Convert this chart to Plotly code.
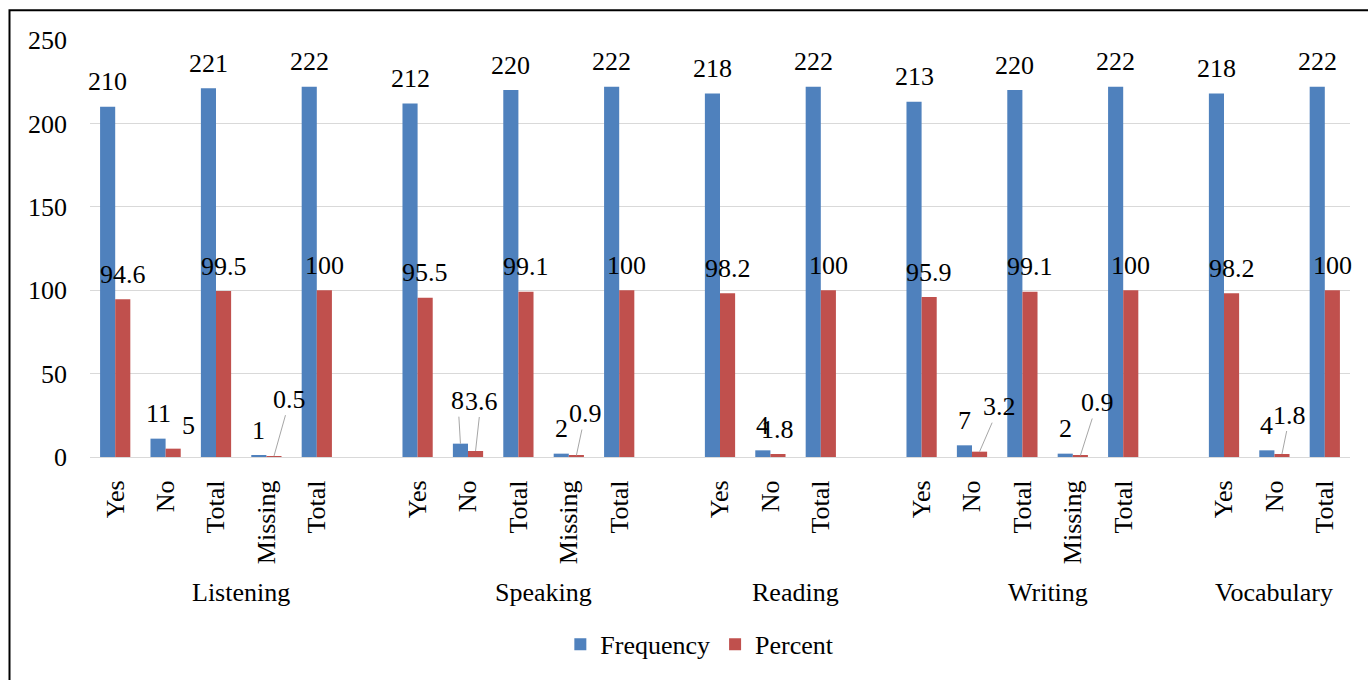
import plotly.graph_objects as go

# ---- data ----
sub_labels = ["Yes", "No", "Total", "Missing", "Total", "",
              "Yes", "No", "Total", "Missing", "Total", "",
              "Yes", "No", "Total", "",
              "Yes", "No", "Total", "Missing", "Total", "",
              "Yes", "No", "Total"]
groups = ["Listening", "Speaking", "Reading", "Writing", "Vocabulary"]
group_spans = [(0, 5), (6, 11), (12, 15), (16, 21), (22, 24)]
frequency = [210, 11, 221, 1, 222, None,
             212, 8, 220, 2, 222, None,
             218, 4, 222, None,
             213, 7, 220, 2, 222, None,
             218, 4, 222]
percent = [94.6, 5, 99.5, 0.5, 100, None,
           95.5, 3.6, 99.1, 0.9, 100, None,
           98.2, 1.8, 100, None,
           95.9, 3.2, 99.1, 0.9, 100, None,
           98.2, 1.8, 100]

# manual label placements (pixel offsets) for crowded small labels: index -> (dx, dy, leader)
freq_label_moves = {7: (-2.5, -43, True)}
pct_label_moves = {1: (15, -23, False), 3: (16, -57, True), 7: (5.5, -50, True),
                   9: (9, -42, True), 17: (19.5, -45, True), 19: (17, -53, True),
                   23: (8, -39, True)}

BLUE = "#4F81BD"
RED = "#C0504D"
FONT = "'Liberation Serif', 'Times New Roman', Tinos, 'DejaVu Serif', serif"
FS = 26

x = list(range(len(sub_labels)))

fig = go.Figure()
fig.add_trace(go.Bar(x=x, y=frequency, name="Frequency", marker_color=BLUE,
                     marker_line_width=0, hoverinfo="skip"))
fig.add_trace(go.Bar(x=x, y=percent, name="Percent", marker_color=RED,
                     marker_line_width=0, hoverinfo="skip"))

annotations = []
def add_labels(values, off, moves):
    for i, v in enumerate(values):
        if v is None:
            continue
        txt = f"{v:g}"
        if i in moves:
            dx, dy, leader = moves[i]
            if leader:
                annotations.append(dict(x=i + off, y=v, xref="x", yref="y", text=txt,
                                        showarrow=True, arrowhead=0, arrowwidth=1,
                                        arrowcolor="#A6A6A6", ax=dx, ay=dy,
                                        font=dict(family=FONT, size=FS, color="black")))
            else:
                annotations.append(dict(x=i + off, y=v, xref="x", yref="y", text=txt,
                                        showarrow=False, xshift=dx, yshift=-dy,
                                        yanchor="middle",
                                        font=dict(family=FONT, size=FS, color="black")))
        else:
            annotations.append(dict(x=i + off, y=v, xref="x", yref="y", text=txt,
                                    showarrow=False, yshift=25, yanchor="middle",
                                    font=dict(family=FONT, size=FS, color="black")))

add_labels(frequency, -0.15, freq_label_moves)
add_labels(percent, 0.15, pct_label_moves)

for g, (a, b) in zip(groups, group_spans):
    annotations.append(dict(x=(a + b) / 2, y=-0.325, xref="x", yref="paper", text=g,
                            showarrow=False, yanchor="middle",
                            font=dict(family=FONT, size=FS, color="black")))

tick_vals = [i for i, s in enumerate(sub_labels) if s]
tick_text = [s for s in sub_labels if s]

fig.update_layout(
    width=1368, height=680,
    margin=dict(l=90, r=18, t=40, b=221),
    paper_bgcolor="white", plot_bgcolor="white",
    barmode="group", bargap=0.4, bargroupgap=0,
    font=dict(family=FONT, size=FS, color="black"),
    showlegend=True,
    legend=dict(orientation="h", x=0.484, xanchor="center", y=-0.449, yanchor="middle",
                font=dict(family=FONT, size=FS, color="black"), itemwidth=30,
                traceorder="normal"),
    xaxis=dict(range=[-0.5, 24.5], tickmode="array", tickvals=tick_vals, ticktext=tick_text,
               tickangle=-90, showgrid=False, showline=True, linecolor="#D9D9D9",
               linewidth=1, ticks="", ticklabelstandoff=12, zeroline=False,
               tickfont=dict(family=FONT, size=FS, color="black")),
    yaxis=dict(range=[0, 250], dtick=50, showgrid=True, gridcolor="#D9D9D9", gridwidth=1,
               showline=False, zeroline=False, ticks="", ticklabelstandoff=22,
               tickfont=dict(family=FONT, size=FS, color="black")),
    annotations=annotations,
    shapes=[dict(type="rect", xref="paper", yref="paper",
                 x0=(9.5 - 90) / 1260, x1=(1372 - 90) / 1260,
                 y0=(459 - 700) / 419, y1=(459 - 10) / 419,
                 line=dict(color="black", width=2), fillcolor="rgba(0,0,0,0)", layer="below")],
)

fig.write_html("out.html")
